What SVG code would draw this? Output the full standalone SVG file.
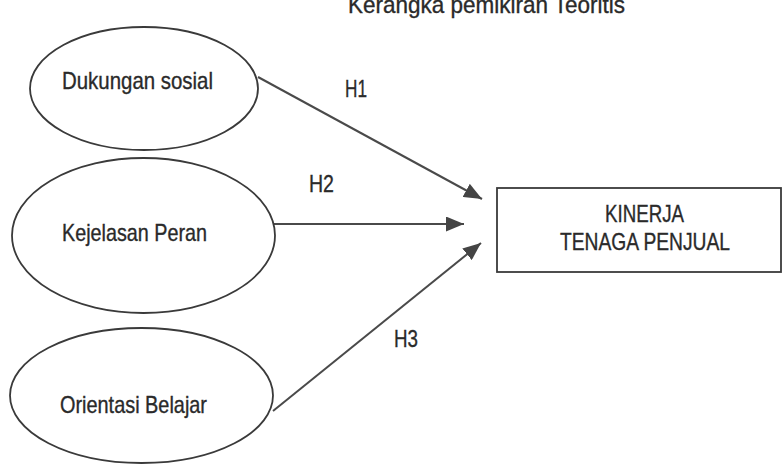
<svg xmlns="http://www.w3.org/2000/svg" width="783" height="465" viewBox="0 0 783 465">
<style>
.node{fill:#fff;stroke:#3a3a3a;stroke-width:1.8}
.t{font-family:"Liberation Sans",Arial,sans-serif;fill:#2a2a2a;stroke:#2a2a2a;stroke-width:0.35;font-size:24px}
.c{stroke:#4a4a4a;stroke-width:2;fill:none}
</style>
<defs>
<marker id="ah" markerUnits="userSpaceOnUse" markerWidth="18" markerHeight="15" refX="18" refY="7.5" orient="auto">
<path d="M0,0 L18,7.5 L0,15 z" fill="#444"/>
</marker>
</defs>
<rect width="783" height="465" fill="#fff"/>
<text class="t" x="348" y="13" textLength="277" lengthAdjust="spacingAndGlyphs">Kerangka pemikiran Teoritis</text>
<g id="connectors">
<line class="c" x1="258" y1="77" x2="482" y2="199" marker-end="url(#ah)"/>
<line class="c" x1="274" y1="224" x2="464" y2="224" marker-end="url(#ah)"/>
<line class="c" x1="273" y1="411" x2="481" y2="243" marker-end="url(#ah)"/>
<text class="t" x="345" y="97" textLength="22" lengthAdjust="spacingAndGlyphs">H1</text>
<text class="t" x="309" y="192" textLength="25" lengthAdjust="spacingAndGlyphs">H2</text>
<text class="t" x="394" y="347" textLength="24" lengthAdjust="spacingAndGlyphs">H3</text>
</g>
<g id="dukungan">
<ellipse class="node" cx="144" cy="88.5" rx="114" ry="61.5"/>
<text class="t" x="62" y="89" textLength="151" lengthAdjust="spacingAndGlyphs">Dukungan sosial</text>
</g>
<g id="kejelasan">
<ellipse class="node" cx="143.5" cy="235.5" rx="131.5" ry="77.5"/>
<text class="t" x="62" y="241" textLength="145" lengthAdjust="spacingAndGlyphs">Kejelasan Peran</text>
</g>
<g id="orientasi">
<ellipse class="node" cx="141.5" cy="395.5" rx="131.5" ry="67.5"/>
<text class="t" x="60" y="413" textLength="147" lengthAdjust="spacingAndGlyphs">Orientasi Belajar</text>
</g>
<g id="kinerja">
<rect class="node" x="497" y="188" width="284" height="84"/>
<text class="t" x="605" y="222" textLength="79" lengthAdjust="spacingAndGlyphs">KINERJA</text>
<text class="t" x="560" y="250" textLength="170" lengthAdjust="spacingAndGlyphs">TENAGA PENJUAL</text>
</g>
</svg>
